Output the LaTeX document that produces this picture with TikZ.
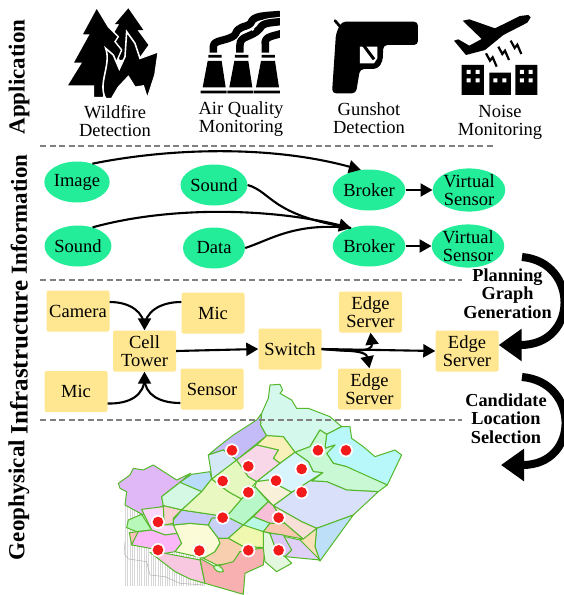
\documentclass[tikz,border=0pt]{standalone}
\usepackage{fontspec}
\setmainfont{Liberation Serif}
\usetikzlibrary{arrows.meta,shapes.geometric}
\definecolor{ellc}{HTML}{23ED98}
\definecolor{boxc}{HTML}{FFE690}
\definecolor{mapg}{HTML}{55B82A}
\definecolor{dotr}{HTML}{F21A1A}
\tikzset{
 ell/.style={ellipse,fill=ellc,minimum width=62pt,minimum height=41pt,inner sep=0pt,align=center,font=\fontsize{18.5}{17.5}\selectfont},
 bx/.style={rectangle,rounded corners=2pt,fill=boxc,minimum width=63pt,minimum height=41pt,inner sep=0pt,align=center,font=\fontsize{18.5}{18.5}\selectfont},
 captxt/.style={align=center,inner sep=0pt,font=\fontsize{18.5}{18}\selectfont},
 lay/.style={rotate=90,inner sep=0pt,font=\fontsize{23}{23}\selectfont\bfseries},
 bcap/.style={align=center,inner sep=0pt,font=\fontsize{18.3}{18.3}\selectfont\bfseries},
 sepl/.style={draw=black!50,line width=1.3pt,dash pattern=on 6pt off 3.5pt},
 con/.style={draw=black,line width=2.1pt,-{Triangle[length=12pt,width=13pt]}},
 conp/.style={draw=black,line width=2.1pt},
 mr/.style={draw=mapg,line width=1pt,line join=round},
 bigarr/.style={draw=black,line width=8pt,-{Triangle[length=23pt,width=31pt]}},
 ico/.style={fill=black,draw=none},
 icoz/.style={x=0.3333pt,y=-0.3333pt},
 smk/.style={line width=7.5pt,black,line join=round},
 smkw/.style={line width=9.5pt,white,line join=round},
}
\newcommand{\reg}[2]{\definecolor{tmpc}{HTML}{#1}\path[mr,fill=tmpc] plot coordinates {#2} -- cycle;}
\newcommand{\dotm}[1]{\fill[white] (#1) circle (21); \fill[dotr] (#1) circle (16);}
\begin{document}
\begin{tikzpicture}[x=1pt,y=-1pt]
\useasboundingbox (0,0) rectangle (563,595);
% wildfire icon
\begin{scope}[shift={(60,0)},icoz]
 \fill[ico] (205,25)--(165,72)--(178,72)--(150,120)--(180,180)--(240,170)--(265,135)--(232,90)--(250,90)--cycle;
 \path[ico,draw=white,line width=1.4pt,line join=miter] (110,22)--(65,105)--(85,105)--(38,190)--(62,190)--(20,258)--(100,258)--(100,293)--(130,293)--(150,230)--(185,150)--(165,125)--(175,110)--(145,80)--cycle;
 \path[ico,draw=white,line width=1.6pt,line join=miter] (137,296)..controls (112,250) and (155,195)..(137,145)--(160,165)--(178,207)--(195,170)--(200,95)--(225,130)--(240,175)--(295,155)--(285,225)--(262,296)--(250,258)--(225,262)--(205,230)--(175,262)--(155,296)--cycle;
\end{scope}
% factory icon
\begin{scope}[shift={(180,0)},icoz]
 \clip (50,20) rectangle (300,300);
 \draw[smk] (100,158)--(100,140)..controls (100,118) and (140,125)..(165,105)..controls (175,75) and (195,85)..(212,70)..controls (220,45) and (250,48)..(320,42);
 \draw[smkw] (180,158)--(180,135)..controls (180,105) and (215,115)..(240,85)..controls (250,65) and (275,70)..(320,62);
 \draw[smk] (180,158)--(180,135)..controls (180,105) and (215,115)..(240,85)..controls (250,65) and (275,70)..(320,62);
 \draw[smkw] (256,158)--(256,135)..controls (250,105) and (285,110)..(320,95);
 \draw[smk] (256,158)--(256,135)..controls (250,105) and (285,110)..(320,95);
 \fill[white] (218,88) circle (5);
 \foreach \dx in {0,80,160}{
  \fill[ico,shift={(\dx,0)}] (85,165)--(125,165)--(125,173)--(85,173)--cycle (83,183)--(125,183)--(137,262)--(68,262)--cycle (62,272)--(140,272)--(140,280)--(62,280)--cycle;
 }
\end{scope}
% gun icon
\begin{scope}[shift={(300,0)},icoz]
 \draw[line width=2.7pt,line cap=round] (105,62)--(125,85);
 \fill[ico,rounded corners=4pt] (125,65)--(354,65)--(354,135)--(250,135)--(248,185)--(232,207)--(180,207)--(168,280)--(96,280)--(108,100)--cycle;
 \fill[white] (180,140)--(232,140)--(232,175)--(222,190)--(180,190)--cycle;
 \draw[line width=3pt] (190,135)--(222,178);
\end{scope}
% noise icon
\begin{scope}[shift={(440,0)},icoz]
 \fill[ico] (68,62)--(88,58)--(165,85)--(240,48)--(265,45)--(272,52)--(262,68)--(190,105)--(135,150)--(78,165)--(42,122)--(55,118)--(88,137)--(125,117)--cycle;
 \fill[ico] (65,195) rectangle (132,285) (148,218) rectangle (213,285) (226,195) rectangle (292,285);
 \fill[white] (80,210) rectangle (92,222) (107,210) rectangle (119,222) (80,235) rectangle (92,247) (107,235) rectangle (119,247)
  (160,235) rectangle (172,247) (187,235) rectangle (199,247)
  (240,210) rectangle (252,222) (266,210) rectangle (278,222) (240,235) rectangle (252,247) (266,235) rectangle (278,247);
 \foreach \dx/\dy in {0/0,37/-20,74/-38}
  \draw[line width=2.2pt,shift={(\dx,\dy)}] (138,160)--(150,182)--(158,172)--(170,200);
\end{scope}
% captions
\node[captxt] (c1) at (115,121) {Wildfire\\Detection};
\node[captxt] (c2) at (241,119) {Air Quality\\Monitoring};
\node[captxt] (c3) at (369,118) {Gunshot\\Detection};
\node[captxt] (c4) at (500,122) {Noise\\Monitoring};
% layer labels
\node[lay] (l1) at (19,77) {Application};
\node[lay] (l2) at (19,214.5) {Information};
\node[lay,font=\fontsize{25}{25}\selectfont\bfseries] (l3) at (19,357.5) {Infrastructure};
\node[lay] (l4) at (19,500) {Geophysical};
% map background stripes
\begin{scope}[shift={(100,375)},x=0.3333pt,y=-0.3333pt]
 \foreach \i in {0,...,34} \draw[black!16,line width=0.7pt] ({76+\i*7},368)--({76+\i*7},632);
 \draw[black!30,line width=0.5pt] (75,500)--(72,535)--(85,552)--(140,560)--(150,600)--(195,605)--(240,625)--(310,630);
\end{scope}
% separators
\coordinate (s1a) at (40,146); \coordinate (s1b) at (495,146);
\coordinate (s2a) at (40,280); \coordinate (s2b) at (462,280);
\coordinate (s3a) at (40,420); \coordinate (s3b) at (462,420);
% map
\begin{scope}[shift={(100,375)},x=0.3333pt,y=-0.3333pt]
 \reg{F8C8E0}{(195,535)(300,555)(315,625)(270,612)(225,590)(150,532)}
 \reg{E0B8F8}{(55,325)(90,300)(100,280)(130,285)(160,270)(230,315)(272,295)(240,322)(185,365)(190,392)(130,420)(75,390)(80,350)(60,340)}
 \reg{B8DCFA}{(240,322)(275,298)(330,290)(335,312)(305,350)(245,325)}
 \reg{D4F8E4}{(240,322)(305,350)(245,405)(190,392)(185,365)}
 \reg{FBD0D0}{(190,392)(245,405)(220,430)(220,445)(192,450)}
 \reg{FBD8FB}{(125,403)(190,395)(192,450)(222,450)(232,475)(195,480)(155,465)}
 \reg{B8F8B8}{(85,435)(125,418)(155,465)(110,470)(80,458)}
 \reg{FBC0B8}{(88,473)(115,470)(110,505)(95,510)}
 \reg{FBB8F8}{(115,470)(155,465)(195,480)(232,475)(245,505)(225,530)(195,535)(150,520)(95,510)}
 \reg{FBFBD8}{(220,450)(270,445)(325,450)(355,490)(360,505)(345,530)(320,550)(300,547)(225,530)(245,505)}
 \reg{C8C8FA}{(220,435)(245,405)(380,425)(335,430)(325,450)(270,445)(220,450)}
 \reg{E8F8C0}{(335,312)(385,350)(425,372)(380,425)(245,405)(305,350)}
 \reg{E4F8C0}{(410,255)(445,305)(470,320)(425,372)(385,350)(335,312)(375,280)}
 \reg{C4BCF8}{(325,240)(355,215)(400,180)(470,135)(485,115)(482,150)(500,182)(410,255)(370,225)}
 \reg{D4E8F8}{(325,240)(370,225)(410,255)(335,312)(333,290)}
 \reg{D4F8EC}{(510,30)(540,28)(548,45)(540,55)(575,75)(590,100)(625,100)(690,125)(725,155)(680,178)(660,165)(630,215)(585,232)(550,185)(500,182)(482,150)(485,115)(505,70)}
 \reg{B9F8FA}{(680,178)(725,155)(750,155)(755,190)(790,215)(825,245)(885,225)(905,240)(862,330)(790,300)(740,275)(700,265)(680,235)(705,210)(675,220)}
 \reg{C8F8D4}{(660,165)(680,178)(675,220)(705,210)(680,235)(700,265)(740,275)(862,330)(835,350)(740,345)(680,320)(635,318)(668,293)(640,290)(625,260)(585,232)(630,215)}
 \reg{D8E0FA}{(668,293)(635,318)(680,320)(740,345)(835,350)(760,420)(650,460)(605,440)(520,392)(575,352)}
 \reg{BDE0F8}{(650,460)(760,420)(660,558)(645,515)}
 \reg{F8E0B8}{(610,490)(650,460)(645,515)(660,558)(600,495)}
 \reg{F8F0B8}{(500,182)(550,185)(585,232)(540,265)(520,250)(535,225)(470,210)}
 \reg{F8D8E8}{(470,210)(535,225)(520,250)(540,265)(470,320)(445,305)(410,255)}
 \reg{D8F4FC}{(540,265)(585,232)(625,260)(640,290)(668,293)(575,352)(505,315)(470,320)}
 \reg{F8F0D8}{(470,320)(505,315)(575,352)(520,392)(465,335)}
 \reg{B8F8C8}{(425,372)(465,335)(505,380)(430,450)(380,425)}
 \reg{F8C0D8}{(505,380)(520,392)(555,445)(510,445)(460,425)}
 \reg{B8F8E4}{(460,425)(510,445)(490,470)(455,460)(430,450)}
 \reg{F8C8B0}{(510,445)(555,445)(610,492)(490,470)}
 \reg{F8E0D8}{(520,392)(605,440)(650,460)(610,492)(555,445)}
 \reg{C8D0F8}{(380,425)(430,450)(385,490)(355,490)(325,450)(335,430)}
 \reg{F0F8B0}{(430,450)(490,470)(495,518)(430,515)(385,490)}
 \reg{F8D0B0}{(355,490)(385,490)(430,515)(495,518)(420,530)(400,565)(350,570)(310,550)(345,530)(360,505)}
 \reg{F8B0B0}{(300,550)(345,575)(400,560)(420,530)(495,518)(490,570)(435,595)(430,658)(315,625)}
 \reg{E4F8E0}{(490,470)(510,475)(530,530)(555,545)(575,565)(530,590)(495,560)(490,520)}
 \reg{E0D0F8}{(510,475)(600,495)(660,555)(555,545)(575,525)(550,500)}
 \reg{DCC8F8}{(510,475)(550,480)(575,525)(555,545)(530,530)}
 \path[mr,fill=green!15!white] (340,575)..controls (350,568) and (365,570)..(370,590)..controls (355,595) and (345,585)..(340,575);
 \dotm{396,226}\dotm{445,274}\dotm{368,318}\dotm{445,352}\dotm{368,428}\dotm{174,441}\dotm{174,525}\dotm{298,527}
 \dotm{445,526}\dotm{536,526}\dotm{536,428}\dotm{528,317}\dotm{605,282}\dotm{605,352}\dotm{654,226}\dotm{738,226}
\end{scope}
\draw[sepl] (s1a)--(s1b); \draw[sepl] (s2a)--(s2b); \draw[sepl] (s3a)--(s3b);
% information layer
\node[ell] (im) at (77,182) {Image};
\node[ell] (so1) at (214,185) {Sound};
\node[ell] (b1) at (369,190) {Broker};
\node[ell] (v1) at (469,190) {Virtual\\Sensor};
\node[ell] (so2) at (78,246) {Sound};
\node[ell] (da) at (214,248) {Data};
\node[ell] (b2) at (369,246) {Broker};
\node[ell] (v2) at (468,246) {Virtual\\Sensor};
\draw[con] (im.50) .. controls (170,148) and (270,145) .. (b1.112);
\draw[conp] (so1.east) .. controls (272,192) and (270,215) .. (b2.135);
\draw[con] (so2.52) .. controls (170,206) and (270,208) .. (b2.135);
\draw[conp] (da.east) .. controls (270,240) and (295,222) .. (b2.135);
\draw[con] (b1.east) -- (v1.west);
\draw[con] (b2.east) -- (v2.west);
% infrastructure layer
\node[bx] (cam) at (78,311) {Camera};
\node[bx] (mic1) at (213,313) {Mic};
\node[bx] (cell) at (144.5,351) {Cell\\Tower};
\node[bx] (mic2) at (76,391.5) {Mic};
\node[bx] (sen) at (212,389) {Sensor};
\node[bx] (sw) at (290,349) {Switch};
\node[bx] (e1) at (370.5,312) {Edge\\Server};
\node[bx] (e2) at (369.5,389) {Edge\\Server};
\node[bx] (e3) at (467,351) {Edge\\Server};
\draw[conp] ([yshift=9pt]cam.east) .. controls (130,302) and (144.5,312) .. (144.5,328);
\draw[conp] ([yshift=11pt]mic1.west) .. controls (160,302) and (144.5,312) .. (144.5,328);
\draw[con] (144.5,320) -- (cell.north);
\draw[conp] ([yshift=-12pt]mic2.east) .. controls (130,404) and (144.5,395) .. (144.5,378);
\draw[conp] ([yshift=-14pt]sen.west) .. controls (160,403) and (144.5,395) .. (144.5,378);
\draw[con] (144.5,382) -- (cell.south);
\draw[con] (cell.east) -- (sw.west);
\draw[con] (sw.east) -- (e3.west);
\draw[con] (sw.east) .. controls (352,352) and (373,352) .. (e1.south);
\draw[con] (sw.east) .. controls (352,351) and (366,351) .. (e2.north);
% big arrows
\coordinate (a1s) at (522,257); \coordinate (a2s) at (522,377);
\draw[bigarr] (a1s) .. controls (579,262) and (579,345) .. ([yshift=6pt]e3.east);
\coordinate (a2e) at (501,465);
\draw[bigarr] (a2s) .. controls (580,382) and (580,465) .. (a2e);
\node[bcap] (p) at (507.5,293.5) {Planning\\Graph\\Generation};
\node[bcap] (q) at (506,418.5) {Candidate\\Location\\Selection};
\end{tikzpicture}
\end{document}
